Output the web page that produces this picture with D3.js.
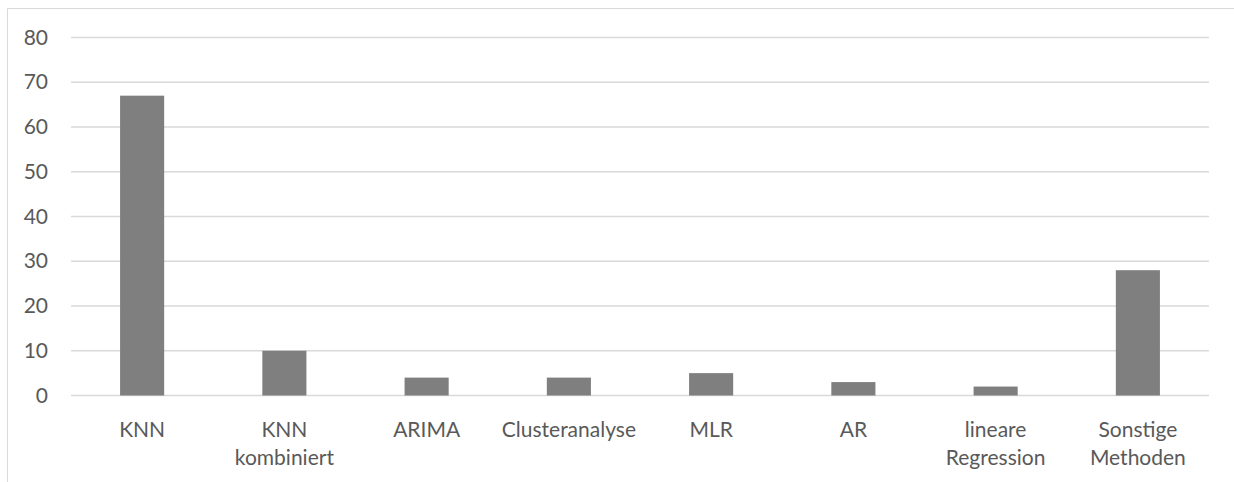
<!DOCTYPE html>
<html>
<head>
<meta charset="utf-8">
<script src="https://cdn.jsdelivr.net/npm/d3@7"></script>
<style>
  html, body { margin: 0; padding: 0; background: #fff; }
  svg { display: block; }
  text { font-family: Lato, "Open Sans", sans-serif; fill: #595959; }
</style>
</head>
<body>
<svg id="chart" width="1234" height="482"></svg>
<script>
// Anzahl der Veröffentlichungen je Prognosemethode
const categories = ["KNN", "KNN kombiniert", "ARIMA", "Clusteranalyse", "MLR", "AR", "lineare Regression", "Sonstige Methoden"];
const counts = [67, 10, 4, 4, 5, 3, 2, 28];
const yTicks = [0, 10, 20, 30, 40, 50, 60, 70, 80];

const svg = d3.select("#chart");
const W = 1234, H = 482;
const plot = { left: 71, right: 1209, top: 37.5, bottom: 395.5 };

// outer chart frame (only top and left edges fall inside the view)
svg.append("line").attr("x1", 7.5).attr("x2", W).attr("y1", 8.5).attr("y2", 8.5)
  .attr("stroke", "#d9d9d9").attr("stroke-width", 1);
svg.append("line").attr("x1", 7.5).attr("x2", 7.5).attr("y1", 8.5).attr("y2", H)
  .attr("stroke", "#d9d9d9").attr("stroke-width", 1);

const x = d3.scaleBand().domain(categories).range([plot.left, plot.right]).paddingInner(0.69).paddingOuter(0.345);
const y = d3.scaleLinear().domain([0, 80]).range([plot.bottom, plot.top]);

// horizontal gridlines
svg.append("g").selectAll("line").data(yTicks).join("line")
  .attr("x1", plot.left).attr("x2", plot.right)
  .attr("y1", d => y(d)).attr("y2", d => y(d))
  .attr("stroke", "#d9d9d9").attr("stroke-width", 1.5);

// y axis labels
const yAxis = d3.axisLeft(y).tickValues(yTicks).tickSize(0).tickPadding(0).tickFormat(d3.format("d"));
const gy = svg.append("g").attr("transform", "translate(48,0)").call(yAxis);
gy.select(".domain").remove();
gy.selectAll("text").attr("font-size", 21).attr("fill", "#595959")
  .style("font-family", "Lato, 'Open Sans', sans-serif");

// bars
svg.append("g").selectAll("rect").data(counts).join("rect")
  .attr("x", (d, i) => x(categories[i]))
  .attr("width", x.bandwidth())
  .attr("y", d => y(d))
  .attr("height", d => y(0) - y(d))
  .attr("fill", "#7f7f7f");

// category labels, multi-word names break onto two lines
const xAxis = d3.axisBottom(x).tickSize(0).tickPadding(0);
const gx = svg.append("g").attr("transform", `translate(0,${plot.bottom})`).call(xAxis);
gx.select(".domain").remove();
gx.selectAll("text").each(function(d) {
  const t = d3.select(this);
  t.text(null).attr("y", 0).attr("dy", null)
    .attr("font-size", 21).attr("fill", "#595959")
    .style("font-family", "Lato, 'Open Sans', sans-serif");
  d.split(" ").forEach((w, k) => {
    t.append("tspan").attr("x", 0).attr("y", 41 + k * 28).text(w);
  });
});
</script>
</body>
</html>
